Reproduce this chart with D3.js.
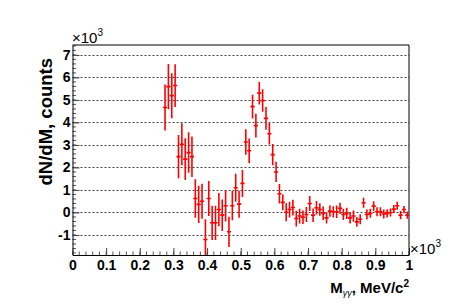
<!DOCTYPE html>
<html>
<head>
<meta charset="utf-8">
<script src="https://cdn.jsdelivr.net/npm/d3@7"></script>
<style>
  body { margin: 0; background: #fff; }
  text { font-family: "Liberation Sans", Arial, sans-serif; }
</style>
</head>
<body>
<script>
// invariant mass bins (x10^3 MeV/c^2), counts and errors (x10^3)
const massBins = [0.275, 0.285, 0.295, 0.305, 0.315, 0.325, 0.335, 0.345, 0.355, 0.365,
  0.375, 0.385, 0.395, 0.405, 0.415, 0.425, 0.435, 0.445, 0.455, 0.465,
  0.475, 0.485, 0.495, 0.505, 0.515, 0.525, 0.535, 0.545, 0.555, 0.565,
  0.575, 0.585, 0.595, 0.605, 0.615, 0.625, 0.635, 0.645, 0.655, 0.665,
  0.675, 0.685, 0.695, 0.705, 0.715, 0.725, 0.735, 0.745, 0.755, 0.765,
  0.775, 0.785, 0.795, 0.805, 0.815, 0.825, 0.835, 0.845, 0.855, 0.865,
  0.875, 0.885, 0.895, 0.905, 0.915, 0.925, 0.935, 0.945, 0.955, 0.965,
  0.975, 0.985, 0.995]

const counts = [4.66, 5.59, 5.19, 5.64, 2.48, 3.03, 2.37, 2.66, 2.48, 0.62,
  0.36, 0.50, -1.20, 0.62, -0.46, -0.46, 0.13, -0.12, 0.30, -0.86,
  0.30, 1.10, 0.37, 1.29, 3.13, 2.74, 4.70, 3.86, 5.30, 4.97,
  4.18, 3.50, 2.57, 1.80, 0.83, 0.45, 0.01, 0.13, 0.22, -0.27,
  -0.16, -0.21, -0.09, 0.40, -0.12, 0.21, 0.13, -0.04, -0.24, 0.06,
  0.03, 0.03, 0.18, -0.09, -0.04, -0.24, -0.16, -0.42, -0.30, 0.43,
  -0.09, -0.04, 0.28, 0.03, 0.03, -0.07, -0.04, 0.00, 0.15, 0.30,
  -0.12, 0.13, -0.12]

const errors = [1.02, 1.01, 1.00, 0.95, 0.96, 0.93, 0.93, 0.90, 0.90, 0.85,
  0.83, 0.78, 0.90, 0.78, 0.76, 0.76, 0.74, 0.70, 0.70, 0.67,
  0.65, 0.62, 0.60, 0.60, 0.57, 0.55, 0.53, 0.53, 0.50, 0.50,
  0.50, 0.48, 0.47, 0.45, 0.43, 0.35, 0.40, 0.35, 0.35, 0.35,
  0.33, 0.30, 0.33, 0.33, 0.30, 0.30, 0.28, 0.30, 0.25, 0.25,
  0.25, 0.28, 0.25, 0.25, 0.25, 0.25, 0.25, 0.22, 0.22, 0.22,
  0.22, 0.20, 0.22, 0.20, 0.20, 0.20, 0.18, 0.18, 0.18, 0.18,
  0.18, 0.16, 0.16]

const xTicks = [0, 0.1, 0.2, 0.3, 0.4, 0.5, 0.6, 0.7, 0.8, 0.9, 1]
const yTicks = [-1, 0, 1, 2, 3, 4, 5, 6, 7]

const binWidth = 0.01
const W = 455, H = 308
const frame = { left: 72.5, right: 409, top: 45, bottom: 255 }

let x = d3.scaleLinear()
  .domain([0, 1])
  .range([frame.left, frame.right])

let y = d3.scaleLinear()
  .domain([-1.89, 7.44])
  .range([frame.bottom, frame.top])

let svg = d3.select('body').append('svg')
  .attr('width', W)
  .attr('height', H)

svg.append('rect')
  .attr('width', W).attr('height', H)
  .attr('fill', '#fff')

// grid
svg.append('g')
  .selectAll('line')
  .data(yTicks)
  .enter().append('line')
    .attr('x1', frame.left).attr('x2', frame.right)
    .attr('y1', (d) => Math.round(y(d)) + 0.5)
    .attr('y2', (d) => Math.round(y(d)) + 0.5)
    .attr('stroke', '#444')
    .attr('stroke-width', 1)
    .attr('stroke-dasharray', '2,2')

// minor ticks
let yMinor = d3.range(-1.8, 7.41, 0.2)
let xMinor = d3.range(0, 1.001, 0.02)

svg.append('g')
  .selectAll('line')
  .data(yMinor)
  .enter().append('line')
    .attr('x1', frame.left).attr('x2', frame.left + 3.5)
    .attr('y1', (d) => y(d)).attr('y2', (d) => y(d))
    .attr('stroke', '#555')

svg.append('g')
  .selectAll('line')
  .data(xMinor)
  .enter().append('line')
    .attr('x1', (d) => x(d)).attr('x2', (d) => x(d))
    .attr('y1', frame.bottom).attr('y2', frame.bottom - 3.5)
    .attr('stroke', '#555')

// axes
let yAxis = svg.append('g')
  .attr('transform', 'translate(' + frame.left + ',0)')
  .call(d3.axisLeft(y)
    .tickValues(yTicks)
    .tickFormat((d) => String(d))
    .tickSizeInner(-7)
    .tickSizeOuter(0)
    .tickPadding(3))

let xAxis = svg.append('g')
  .attr('transform', 'translate(0,' + frame.bottom + ')')
  .call(d3.axisBottom(x)
    .tickValues(xTicks)
    .tickFormat((d) => String(d))
    .tickSizeInner(-7)
    .tickSizeOuter(0)
    .tickPadding(4))

svg.selectAll('.domain').attr('stroke', '#000')
svg.selectAll('.tick line').attr('stroke', '#444')
svg.selectAll('.tick text')
  .attr('fill', '#000')
  .attr('font-size', 14)
  .attr('font-weight', 'bold')
  .attr('font-family', '"Liberation Sans", Arial, sans-serif')

yAxis.selectAll('.tick text').attr('x', -2)
xAxis.selectAll('.tick text').attr('y', 5)

// frame top and right
svg.append('path')
  .attr('d', 'M' + frame.left + ',' + frame.top + 'H' + frame.right + 'V' + frame.bottom)
  .attr('fill', 'none')
  .attr('stroke', '#000')
  .attr('stroke-width', 1)

// error bars
svg.append('clipPath').attr('id', 'clip')
  .append('rect')
    .attr('x', frame.left).attr('y', frame.top)
    .attr('width', frame.right - frame.left)
    .attr('height', frame.bottom - frame.top)

let pts = svg.append('g')
  .attr('clip-path', 'url(#clip)')
  .selectAll('g')
  .data(massBins.map((m, i) => ({ m: m, v: counts[i], e: errors[i] })))
  .enter().append('g')

pts.append('line')
  .attr('x1', (d) => x(d.m)).attr('x2', (d) => x(d.m))
  .attr('y1', (d) => y(d.v - d.e)).attr('y2', (d) => y(d.v + d.e))
  .attr('stroke', '#ff0000')
  .attr('stroke-width', 1.6)

pts.append('line')
  .attr('x1', (d) => x(d.m - binWidth / 2) - 0.4)
  .attr('x2', (d) => x(d.m + binWidth / 2) + 0.4)
  .attr('y1', (d) => y(d.v)).attr('y2', (d) => y(d.v))
  .attr('stroke', '#ff0000')
  .attr('stroke-width', 1.6)

// titles
svg.append('text')
  .attr('transform', 'translate(52,58) rotate(-90)')
  .attr('text-anchor', 'end')
  .attr('font-size', 18.5)
  .attr('font-weight', 'bold')
  .text('dN/dM, counts')

let xt = svg.append('text')
  .attr('x', 409).attr('y', 293)
  .attr('text-anchor', 'end')
  .attr('font-size', 15)
  .attr('font-weight', 'bold')
xt.append('tspan').text('M')
xt.append('tspan').attr('dy', 3).attr('font-size', 9).attr('font-weight', 'normal')
  .attr('font-style', 'italic').text('γγ')
xt.append('tspan').attr('dy', -3).text(', MeV/c')
xt.append('tspan').attr('dy', -6).attr('font-size', 10).text('2')

function exponent(xp, yp) {
  let t = svg.append('text')
    .attr('x', xp).attr('y', yp)
    .attr('font-size', 15)
  t.append('tspan').text('×10')
  t.append('tspan').attr('dy', -7).attr('font-size', 10).text('3')
}
exponent(72, 43)
exponent(410, 254)
</script>
</body>
</html>
